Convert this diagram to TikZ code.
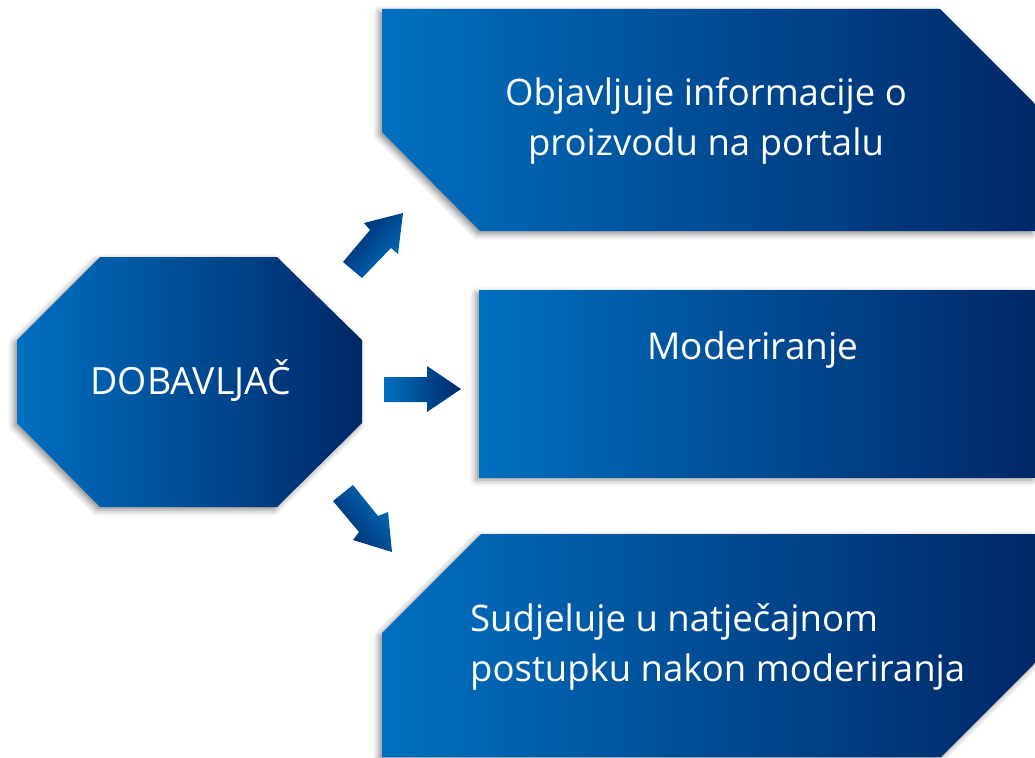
\documentclass[tikz,border=0pt]{standalone}
\usepackage{fontspec}
\setmainfont{Open Sans}
\usetikzlibrary{shadows.blur}
\definecolor{lblue}{RGB}{0,112,192}
\definecolor{dblue}{RGB}{0,40,104}
\tikzset{
  panel/.style={left color=lblue, right color=dblue, shading angle=90,
    blur shadow={shadow xshift=-3pt, shadow yshift=-3pt, shadow blur radius=6pt, shadow opacity=45}},
  arrowshape/.style={left color=lblue, right color=dblue},
  lbl/.style={text=white, inner sep=0pt, font=\fontsize{36.5}{50}\selectfont}
}
\begin{document}
\begin{tikzpicture}[x=1pt,y=-1pt]
\useasboundingbox (0,0) rectangle (1035,757);
% panels
\path[panel] (382,9) -- (940,9) -- (1035,104) -- (1035,231) -- (480,231) -- (382,132) -- cycle;
\path[panel] (479,290) rectangle (1035,477);
\path[panel] (481,534) -- (1035,534) -- (1035,663) -- (941,757) -- (382,757) -- (382,633) -- cycle;
\path[panel] (100,257) -- (277,257) -- (362,340) -- (362,423) -- (277,507) -- (100,507) -- (17,423) -- (17,340) -- cycle;
% arrows
\path[arrowshape, shading angle=-131] (343,262) -- (370,230) -- (364,223) -- (403,213) -- (398,254) -- (391,248) -- (362,278) -- cycle;
\path[arrowshape, shading angle=90] (384,377) -- (427,377) -- (427,366) -- (461,389) -- (427,412) -- (427,402) -- (384,402) -- cycle;
\path[arrowshape, shading angle=-50] (353,485) -- (378,516) -- (388,512) -- (392,552) -- (353,540) -- (359,532) -- (333,501) -- cycle;
% labels
\node[lbl, align=center, anchor=north] (t1) at (706,77) {Objavljuje informacije o\\proizvodu na portalu};
\node[lbl, anchor=north, font=\fontsize{37}{40}\selectfont] (t2) at (753,331) {Moderiranje};
\node[lbl, align=left, anchor=north west] (t3) at (470,603) {Sudjeluje u natječajnom\\postupku nakon moderiranja};
\node[lbl, font=\fontsize{37.5}{40}\selectfont] (t4) at (191,381) {DOBAVLJAČ};
\end{tikzpicture}
\end{document}
